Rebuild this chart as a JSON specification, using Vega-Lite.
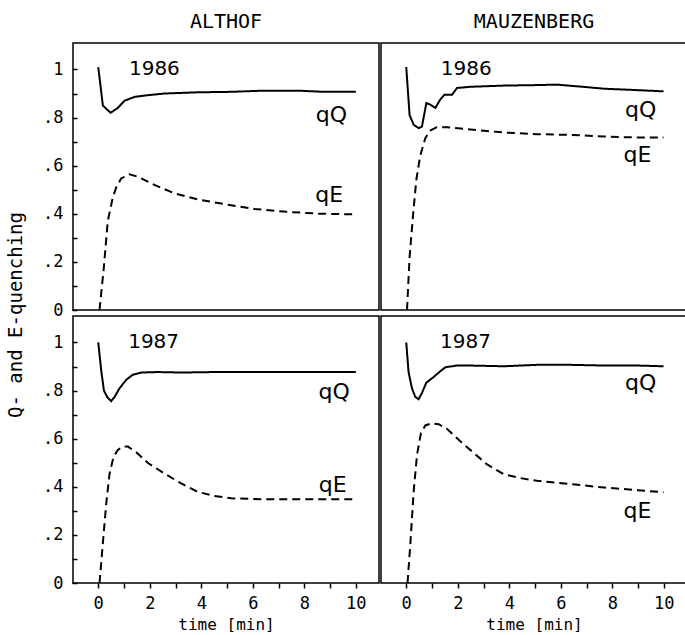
{
  "$schema": "https://vega.github.io/schema/vega-lite/v6.json",
  "padding": {"left": 6, "top": 12, "right": 0, "bottom": 0},
  "background": "white",
  "datasets": {
    "all": [
      {"type":"curve","site":"ALTHOF","year":"1986","series":"qQ","t":0,"v":1.01},
      {"type":"curve","site":"ALTHOF","year":"1986","series":"qQ","t":0.18,"v":0.85},
      {"type":"curve","site":"ALTHOF","year":"1986","series":"qQ","t":0.48,"v":0.82},
      {"type":"curve","site":"ALTHOF","year":"1986","series":"qQ","t":0.76,"v":0.84},
      {"type":"curve","site":"ALTHOF","year":"1986","series":"qQ","t":1.02,"v":0.87},
      {"type":"curve","site":"ALTHOF","year":"1986","series":"qQ","t":1.41,"v":0.886},
      {"type":"curve","site":"ALTHOF","year":"1986","series":"qQ","t":1.93,"v":0.893},
      {"type":"curve","site":"ALTHOF","year":"1986","series":"qQ","t":2.57,"v":0.9},
      {"type":"curve","site":"ALTHOF","year":"1986","series":"qQ","t":3.86,"v":0.905},
      {"type":"curve","site":"ALTHOF","year":"1986","series":"qQ","t":5.16,"v":0.907},
      {"type":"curve","site":"ALTHOF","year":"1986","series":"qQ","t":6.45,"v":0.912},
      {"type":"curve","site":"ALTHOF","year":"1986","series":"qQ","t":7.74,"v":0.912},
      {"type":"curve","site":"ALTHOF","year":"1986","series":"qQ","t":8.77,"v":0.907},
      {"type":"curve","site":"ALTHOF","year":"1986","series":"qQ","t":10,"v":0.907},
      {"type":"curve","site":"ALTHOF","year":"1986","series":"qE","t":0.05,"v":0.0},
      {"type":"curve","site":"ALTHOF","year":"1986","series":"qE","t":0.22,"v":0.18},
      {"type":"curve","site":"ALTHOF","year":"1986","series":"qE","t":0.37,"v":0.37},
      {"type":"curve","site":"ALTHOF","year":"1986","series":"qE","t":0.57,"v":0.47},
      {"type":"curve","site":"ALTHOF","year":"1986","series":"qE","t":0.7,"v":0.51},
      {"type":"curve","site":"ALTHOF","year":"1986","series":"qE","t":0.89,"v":0.547},
      {"type":"curve","site":"ALTHOF","year":"1986","series":"qE","t":1.21,"v":0.564},
      {"type":"curve","site":"ALTHOF","year":"1986","series":"qE","t":1.54,"v":0.554},
      {"type":"curve","site":"ALTHOF","year":"1986","series":"qE","t":2.18,"v":0.52},
      {"type":"curve","site":"ALTHOF","year":"1986","series":"qE","t":2.96,"v":0.485},
      {"type":"curve","site":"ALTHOF","year":"1986","series":"qE","t":3.86,"v":0.46},
      {"type":"curve","site":"ALTHOF","year":"1986","series":"qE","t":4.9,"v":0.44},
      {"type":"curve","site":"ALTHOF","year":"1986","series":"qE","t":6.06,"v":0.42},
      {"type":"curve","site":"ALTHOF","year":"1986","series":"qE","t":7.35,"v":0.408},
      {"type":"curve","site":"ALTHOF","year":"1986","series":"qE","t":8.64,"v":0.4},
      {"type":"curve","site":"ALTHOF","year":"1986","series":"qE","t":9.87,"v":0.398},

      {"type":"curve","site":"MAUZENBERG","year":"1986","series":"qQ","t":0,"v":1.01},
      {"type":"curve","site":"MAUZENBERG","year":"1986","series":"qQ","t":0.13,"v":0.81},
      {"type":"curve","site":"MAUZENBERG","year":"1986","series":"qQ","t":0.29,"v":0.77},
      {"type":"curve","site":"MAUZENBERG","year":"1986","series":"qQ","t":0.48,"v":0.756},
      {"type":"curve","site":"MAUZENBERG","year":"1986","series":"qQ","t":0.61,"v":0.763},
      {"type":"curve","site":"MAUZENBERG","year":"1986","series":"qQ","t":0.78,"v":0.86},
      {"type":"curve","site":"MAUZENBERG","year":"1986","series":"qQ","t":0.93,"v":0.854},
      {"type":"curve","site":"MAUZENBERG","year":"1986","series":"qQ","t":1.13,"v":0.84},
      {"type":"curve","site":"MAUZENBERG","year":"1986","series":"qQ","t":1.32,"v":0.875},
      {"type":"curve","site":"MAUZENBERG","year":"1986","series":"qQ","t":1.48,"v":0.895},
      {"type":"curve","site":"MAUZENBERG","year":"1986","series":"qQ","t":1.78,"v":0.895},
      {"type":"curve","site":"MAUZENBERG","year":"1986","series":"qQ","t":1.97,"v":0.923},
      {"type":"curve","site":"MAUZENBERG","year":"1986","series":"qQ","t":2.49,"v":0.928},
      {"type":"curve","site":"MAUZENBERG","year":"1986","series":"qQ","t":3.79,"v":0.933},
      {"type":"curve","site":"MAUZENBERG","year":"1986","series":"qQ","t":5.08,"v":0.935},
      {"type":"curve","site":"MAUZENBERG","year":"1986","series":"qQ","t":5.86,"v":0.937},
      {"type":"curve","site":"MAUZENBERG","year":"1986","series":"qQ","t":6.64,"v":0.93},
      {"type":"curve","site":"MAUZENBERG","year":"1986","series":"qQ","t":7.68,"v":0.92},
      {"type":"curve","site":"MAUZENBERG","year":"1986","series":"qQ","t":8.98,"v":0.914},
      {"type":"curve","site":"MAUZENBERG","year":"1986","series":"qQ","t":9.99,"v":0.909},
      {"type":"curve","site":"MAUZENBERG","year":"1986","series":"qE","t":0.03,"v":0.0},
      {"type":"curve","site":"MAUZENBERG","year":"1986","series":"qE","t":0.13,"v":0.22},
      {"type":"curve","site":"MAUZENBERG","year":"1986","series":"qE","t":0.26,"v":0.39},
      {"type":"curve","site":"MAUZENBERG","year":"1986","series":"qE","t":0.39,"v":0.54},
      {"type":"curve","site":"MAUZENBERG","year":"1986","series":"qE","t":0.54,"v":0.64},
      {"type":"curve","site":"MAUZENBERG","year":"1986","series":"qE","t":0.74,"v":0.714},
      {"type":"curve","site":"MAUZENBERG","year":"1986","series":"qE","t":0.93,"v":0.746},
      {"type":"curve","site":"MAUZENBERG","year":"1986","series":"qE","t":1.19,"v":0.76},
      {"type":"curve","site":"MAUZENBERG","year":"1986","series":"qE","t":1.58,"v":0.76},
      {"type":"curve","site":"MAUZENBERG","year":"1986","series":"qE","t":2.49,"v":0.75},
      {"type":"curve","site":"MAUZENBERG","year":"1986","series":"qE","t":3.79,"v":0.738},
      {"type":"curve","site":"MAUZENBERG","year":"1986","series":"qE","t":5.08,"v":0.731},
      {"type":"curve","site":"MAUZENBERG","year":"1986","series":"qE","t":6.38,"v":0.728},
      {"type":"curve","site":"MAUZENBERG","year":"1986","series":"qE","t":7.68,"v":0.721},
      {"type":"curve","site":"MAUZENBERG","year":"1986","series":"qE","t":8.98,"v":0.717},
      {"type":"curve","site":"MAUZENBERG","year":"1986","series":"qE","t":9.99,"v":0.717},

      {"type":"curve","site":"ALTHOF","year":"1987","series":"qQ","t":0,"v":1.0},
      {"type":"curve","site":"ALTHOF","year":"1987","series":"qQ","t":0.12,"v":0.88},
      {"type":"curve","site":"ALTHOF","year":"1987","series":"qQ","t":0.22,"v":0.8},
      {"type":"curve","site":"ALTHOF","year":"1987","series":"qQ","t":0.35,"v":0.773},
      {"type":"curve","site":"ALTHOF","year":"1987","series":"qQ","t":0.5,"v":0.756},
      {"type":"curve","site":"ALTHOF","year":"1987","series":"qQ","t":0.63,"v":0.773},
      {"type":"curve","site":"ALTHOF","year":"1987","series":"qQ","t":0.83,"v":0.81},
      {"type":"curve","site":"ALTHOF","year":"1987","series":"qQ","t":1.09,"v":0.845},
      {"type":"curve","site":"ALTHOF","year":"1987","series":"qQ","t":1.34,"v":0.866},
      {"type":"curve","site":"ALTHOF","year":"1987","series":"qQ","t":1.67,"v":0.875},
      {"type":"curve","site":"ALTHOF","year":"1987","series":"qQ","t":2.31,"v":0.877},
      {"type":"curve","site":"ALTHOF","year":"1987","series":"qQ","t":3.22,"v":0.875},
      {"type":"curve","site":"ALTHOF","year":"1987","series":"qQ","t":4.51,"v":0.877},
      {"type":"curve","site":"ALTHOF","year":"1987","series":"qQ","t":5.8,"v":0.877},
      {"type":"curve","site":"ALTHOF","year":"1987","series":"qQ","t":7.09,"v":0.877},
      {"type":"curve","site":"ALTHOF","year":"1987","series":"qQ","t":8.39,"v":0.877},
      {"type":"curve","site":"ALTHOF","year":"1987","series":"qQ","t":10,"v":0.877},
      {"type":"curve","site":"ALTHOF","year":"1987","series":"qE","t":0.05,"v":0.0},
      {"type":"curve","site":"ALTHOF","year":"1987","series":"qE","t":0.18,"v":0.167},
      {"type":"curve","site":"ALTHOF","year":"1987","series":"qE","t":0.31,"v":0.33},
      {"type":"curve","site":"ALTHOF","year":"1987","series":"qE","t":0.44,"v":0.455},
      {"type":"curve","site":"ALTHOF","year":"1987","series":"qE","t":0.59,"v":0.523},
      {"type":"curve","site":"ALTHOF","year":"1987","series":"qE","t":0.76,"v":0.553},
      {"type":"curve","site":"ALTHOF","year":"1987","series":"qE","t":0.96,"v":0.567},
      {"type":"curve","site":"ALTHOF","year":"1987","series":"qE","t":1.15,"v":0.567},
      {"type":"curve","site":"ALTHOF","year":"1987","series":"qE","t":1.47,"v":0.544},
      {"type":"curve","site":"ALTHOF","year":"1987","series":"qE","t":1.93,"v":0.499},
      {"type":"curve","site":"ALTHOF","year":"1987","series":"qE","t":2.57,"v":0.455},
      {"type":"curve","site":"ALTHOF","year":"1987","series":"qE","t":3.22,"v":0.414},
      {"type":"curve","site":"ALTHOF","year":"1987","series":"qE","t":3.86,"v":0.379},
      {"type":"curve","site":"ALTHOF","year":"1987","series":"qE","t":4.51,"v":0.362},
      {"type":"curve","site":"ALTHOF","year":"1987","series":"qE","t":5.16,"v":0.352},
      {"type":"curve","site":"ALTHOF","year":"1987","series":"qE","t":6.45,"v":0.348},
      {"type":"curve","site":"ALTHOF","year":"1987","series":"qE","t":7.74,"v":0.348},
      {"type":"curve","site":"ALTHOF","year":"1987","series":"qE","t":9.03,"v":0.348},
      {"type":"curve","site":"ALTHOF","year":"1987","series":"qE","t":10,"v":0.348},

      {"type":"curve","site":"MAUZENBERG","year":"1987","series":"qQ","t":0,"v":1.0},
      {"type":"curve","site":"MAUZENBERG","year":"1987","series":"qQ","t":0.09,"v":0.877},
      {"type":"curve","site":"MAUZENBERG","year":"1987","series":"qQ","t":0.22,"v":0.81},
      {"type":"curve","site":"MAUZENBERG","year":"1987","series":"qQ","t":0.35,"v":0.774},
      {"type":"curve","site":"MAUZENBERG","year":"1987","series":"qQ","t":0.48,"v":0.764},
      {"type":"curve","site":"MAUZENBERG","year":"1987","series":"qQ","t":0.61,"v":0.79},
      {"type":"curve","site":"MAUZENBERG","year":"1987","series":"qQ","t":0.78,"v":0.833},
      {"type":"curve","site":"MAUZENBERG","year":"1987","series":"qQ","t":1.06,"v":0.856},
      {"type":"curve","site":"MAUZENBERG","year":"1987","series":"qQ","t":1.32,"v":0.88},
      {"type":"curve","site":"MAUZENBERG","year":"1987","series":"qQ","t":1.52,"v":0.897},
      {"type":"curve","site":"MAUZENBERG","year":"1987","series":"qQ","t":1.97,"v":0.904},
      {"type":"curve","site":"MAUZENBERG","year":"1987","series":"qQ","t":2.49,"v":0.904},
      {"type":"curve","site":"MAUZENBERG","year":"1987","series":"qQ","t":3.79,"v":0.901},
      {"type":"curve","site":"MAUZENBERG","year":"1987","series":"qQ","t":5.08,"v":0.907},
      {"type":"curve","site":"MAUZENBERG","year":"1987","series":"qQ","t":6.38,"v":0.907},
      {"type":"curve","site":"MAUZENBERG","year":"1987","series":"qQ","t":7.68,"v":0.904},
      {"type":"curve","site":"MAUZENBERG","year":"1987","series":"qQ","t":8.98,"v":0.904},
      {"type":"curve","site":"MAUZENBERG","year":"1987","series":"qQ","t":9.99,"v":0.901},
      {"type":"curve","site":"MAUZENBERG","year":"1987","series":"qE","t":0.05,"v":0.0},
      {"type":"curve","site":"MAUZENBERG","year":"1987","series":"qE","t":0.16,"v":0.164},
      {"type":"curve","site":"MAUZENBERG","year":"1987","series":"qE","t":0.29,"v":0.384},
      {"type":"curve","site":"MAUZENBERG","year":"1987","series":"qE","t":0.42,"v":0.534},
      {"type":"curve","site":"MAUZENBERG","year":"1987","series":"qE","t":0.57,"v":0.623},
      {"type":"curve","site":"MAUZENBERG","year":"1987","series":"qE","t":0.74,"v":0.655},
      {"type":"curve","site":"MAUZENBERG","year":"1987","series":"qE","t":1.0,"v":0.664},
      {"type":"curve","site":"MAUZENBERG","year":"1987","series":"qE","t":1.26,"v":0.66},
      {"type":"curve","site":"MAUZENBERG","year":"1987","series":"qE","t":1.58,"v":0.641},
      {"type":"curve","site":"MAUZENBERG","year":"1987","series":"qE","t":2.1,"v":0.589},
      {"type":"curve","site":"MAUZENBERG","year":"1987","series":"qE","t":2.62,"v":0.541},
      {"type":"curve","site":"MAUZENBERG","year":"1987","series":"qE","t":3.14,"v":0.493},
      {"type":"curve","site":"MAUZENBERG","year":"1987","series":"qE","t":3.79,"v":0.452},
      {"type":"curve","site":"MAUZENBERG","year":"1987","series":"qE","t":4.44,"v":0.436},
      {"type":"curve","site":"MAUZENBERG","year":"1987","series":"qE","t":5.08,"v":0.425},
      {"type":"curve","site":"MAUZENBERG","year":"1987","series":"qE","t":6.38,"v":0.411},
      {"type":"curve","site":"MAUZENBERG","year":"1987","series":"qE","t":7.68,"v":0.397},
      {"type":"curve","site":"MAUZENBERG","year":"1987","series":"qE","t":8.98,"v":0.386},
      {"type":"curve","site":"MAUZENBERG","year":"1987","series":"qE","t":9.99,"v":0.377},

      {"type":"yearlabel","site":"ALTHOF","year":"1986","label":"1986","t":2.18,"v":1.0},
      {"type":"yearlabel","site":"MAUZENBERG","year":"1986","label":"1986","t":2.33,"v":1.0},
      {"type":"yearlabel","site":"ALTHOF","year":"1987","label":"1987","t":2.15,"v":1.0},
      {"type":"yearlabel","site":"MAUZENBERG","year":"1987","label":"1987","t":2.3,"v":1.0},
      {"type":"serieslabel","site":"ALTHOF","year":"1986","label":"qQ","t":9.05,"v":0.81},
      {"type":"serieslabel","site":"ALTHOF","year":"1986","label":"qE","t":8.97,"v":0.478},
      {"type":"serieslabel","site":"MAUZENBERG","year":"1986","label":"qQ","t":9.1,"v":0.83},
      {"type":"serieslabel","site":"MAUZENBERG","year":"1986","label":"qE","t":8.98,"v":0.645},
      {"type":"serieslabel","site":"ALTHOF","year":"1987","label":"qQ","t":9.16,"v":0.795},
      {"type":"serieslabel","site":"ALTHOF","year":"1987","label":"qE","t":9.1,"v":0.407},
      {"type":"serieslabel","site":"MAUZENBERG","year":"1987","label":"qQ","t":9.1,"v":0.83},
      {"type":"serieslabel","site":"MAUZENBERG","year":"1987","label":"qE","t":8.98,"v":0.3}
    ]
  },
  "data": {"name": "all"},
  "spacing": {"row": 0, "column": 0},
  "facet": {
    "column": {
      "field": "site", "type": "nominal", "sort": ["ALTHOF", "MAUZENBERG"],
      "header": {"title": null, "labelFont": "DejaVu Sans Mono", "labelFontSize": 20, "labelColor": "black", "labelPadding": 10}
    },
    "row": {
      "field": "year", "type": "nominal", "sort": ["1986", "1987"],
      "header": {"title": "Q- and E-quenching", "labels": false, "titleFont": "DejaVu Sans Mono", "titleFontSize": 19, "titleFontWeight": "normal", "titleColor": "black", "titlePadding": 6}
    }
  },
  "spec": {
    "width": 306,
    "height": 267,
    "encoding": {
      "x": {"field": "t", "type": "quantitative", "scale": {"domain": [-0.98, 10.9], "nice": false, "zero": false},
        "axis": {"title": "time [min]", "values": [0,1,2,3,4,5,6,7,8,9,10], "labelExpr": "datum.value % 2 == 0 ? datum.label : ''",
          "grid": false, "domain": false, "tickSize": -5, "tickColor": "black", "tickWidth": 1.5, "labelPadding": 12,
          "labelFont": "DejaVu Sans Mono", "labelFontSize": 17, "labelColor": "black",
          "titleFont": "DejaVu Sans Mono", "titleFontSize": 16, "titleFontWeight": "normal", "titleColor": "black", "titlePadding": 5}},
      "y": {"field": "v", "type": "quantitative", "scale": {"domain": [0, 1.11], "nice": false},
        "axis": {"title": null, "values": [0,0.1,0.2,0.3,0.4,0.5,0.6,0.7,0.8,0.9,1],
          "labelExpr": "indexof(['0','0.2','0.4','0.6','0.8','1'], format(datum.value, '~g')) >= 0 ? replace(format(datum.value, '~g'), '0.', '.') : ''",
          "grid": false, "domain": false, "tickSize": -5, "tickColor": "black", "tickWidth": 1.5, "labelPadding": 14,
          "labelFont": "DejaVu Sans Mono", "labelFontSize": 17, "labelColor": "black"}}
    },
    "layer": [
      {
        "transform": [{"filter": "datum.type == 'curve'"}],
        "mark": {"type": "line", "color": "black", "strokeWidth": 2},
        "encoding": {
          "strokeDash": {"field": "series", "type": "nominal", "scale": {"domain": ["qQ", "qE"], "range": [[1, 0], [8, 5]]}, "legend": null}
        }
      },
      {
        "transform": [{"filter": "datum.type == 'yearlabel'"}],
        "mark": {"type": "text", "font": "DejaVu Sans", "fontSize": 20, "color": "black", "align": "center", "baseline": "middle"},
        "encoding": {"text": {"field": "label"}}
      },
      {
        "transform": [{"filter": "datum.type == 'serieslabel'"}],
        "mark": {"type": "text", "font": "DejaVu Sans", "fontSize": 22, "color": "black", "align": "center", "baseline": "middle"},
        "encoding": {"text": {"field": "label"}}
      }
    ]
  },
  "config": {
    "view": {"stroke": "black", "strokeWidth": 1.5},
    "font": "DejaVu Sans Mono"
  }
}
